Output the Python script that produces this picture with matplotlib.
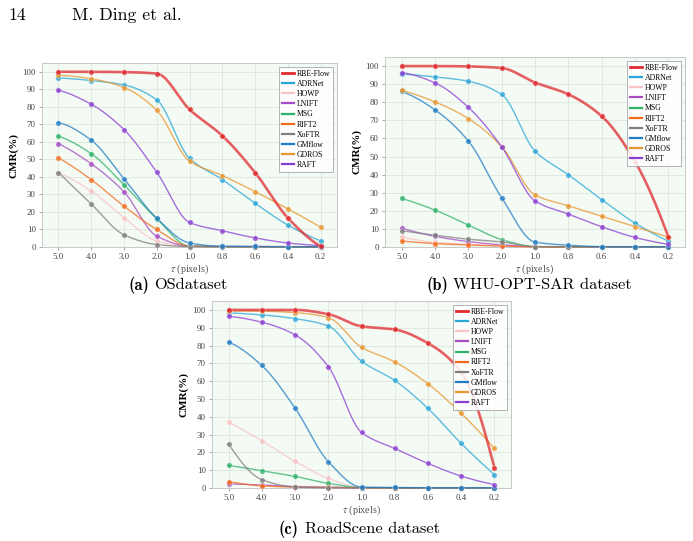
import numpy as np
import matplotlib
matplotlib.use("Agg")
import matplotlib.pyplot as plt
from matplotlib.lines import Line2D

# Data
tau_labels = ["5.0", "4.0", "3.0", "2.0", "1.0", "0.8", "0.6", "0.4", "0.2"]
methods = ["RBE-Flow", "ADRNet", "HOWP", "LNIFT", "MSG", "RIFT2", "XoFTR",
           "GMflow", "GDROS", "RAFT"]
colors = ["#e02b2f", "#2aa7d8", "#f8c4c4", "#a64cc4", "#2fb36a", "#f26b1d",
          "#7f7f7f", "#1f7cc4", "#e8962e", "#8b3fd2"]

os_cmr = {
    "RBE-Flow": [100, 100, 99.8, 99, 78.5, 63.5, 42.5, 16.6, 0.3],
    "ADRNet":   [96.5, 95, 92.5, 84, 50.6, 38.5, 25, 12.5, 3.5],
    "HOWP":     [42.5, 32, 16.8, 3.5, 0.3, 0.2, 0.2, 0.1, 0.1],
    "LNIFT":    [59, 47.5, 31.5, 6.2, 0.5, 0.3, 0.3, 0.2, 0.2],
    "MSG":      [63.2, 53.3, 35.5, 16.2, 0.5, 0.2, 0.2, 0.1, 0.1],
    "RIFT2":    [51, 38.5, 23.3, 10, 0.5, 0.2, 0.1, 0.1, 0.1],
    "XoFTR":    [42.5, 24.6, 7, 1.4, 0.2, 0.1, 0.1, 0.1, 0.1],
    "GMflow":   [71, 61, 39, 16.4, 2.3, 0.4, 0.3, 0.1, 0.1],
    "GDROS":    [98, 96, 91, 78, 49, 40.8, 31.6, 21.8, 11.3],
    "RAFT":     [89.5, 81.5, 67, 42.7, 14, 9.3, 5.2, 2.3, 0.8],
}
whu_cmr = {
    "RBE-Flow": [100, 100, 99.8, 98.9, 90.9, 84.4, 72.3, 47.2, 5.6],
    "ADRNet":   [95.6, 94, 91.6, 84.3, 53, 40, 26.2, 13.2, 3.3],
    "HOWP":     [5.6, 2.5, 1.5, 0.6, 0.1, 0.1, 0.1, 0.1, 0.1],
    "LNIFT":    [10.4, 5.9, 3, 1.2, 0.2, 0.1, 0.1, 0.1, 0.1],
    "MSG":      [26.9, 20.4, 12.2, 4.1, 0.2, 0.1, 0.1, 0.1, 0.1],
    "RIFT2":    [3.3, 1.9, 1.1, 0.5, 0.1, 0.1, 0.1, 0.1, 0.1],
    "XoFTR":    [9, 6.5, 4.3, 2.8, 0.2, 0.1, 0.1, 0.1, 0.1],
    "GMflow":   [86, 75.8, 58.6, 27.2, 2.7, 1.0, 0.2, 0.1, 0.1],
    "GDROS":    [86.6, 80.2, 71, 55.5, 28.8, 22.8, 17, 11.3, 5.5],
    "RAFT":     [96.3, 90.7, 77.2, 55.4, 25.5, 18.2, 11.2, 5.3, 1.5],
}
road_cmr = {
    "RBE-Flow": [100, 100, 100, 97.6, 90.8, 89, 81.3, 65, 11.4],
    "ADRNet":   [98.3, 97.2, 95.1, 91, 71.2, 60.4, 44.7, 25, 7.5],
    "HOWP":     [37, 26.5, 15, 5.4, 0.3, 0.2, 0.1, 0.1, 0.1],
    "LNIFT":    [2.3, 1.7, 0.8, 0.5, 0.1, 0.1, 0.1, 0.1, 0.1],
    "MSG":      [12.7, 9.7, 6.5, 2.6, 0.2, 0.1, 0.1, 0.1, 0.1],
    "RIFT2":    [3.6, 1.2, 0.5, 0.3, 0.1, 0.1, 0.1, 0.1, 0.1],
    "XoFTR":    [24.7, 4.7, 0.5, 0.1, 0.1, 0.1, 0.1, 0.1, 0.1],
    "GMflow":   [82, 68.8, 44.9, 14.8, 0.5, 0.3, 0.1, 0.1, 0.1],
    "GDROS":    [99.4, 99.3, 98.5, 95.7, 79, 70.8, 58.5, 41.9, 22.2],
    "RAFT":     [96.4, 93.1, 86, 68.2, 31.2, 22.2, 13.8, 6.7, 1.9],
}


def pchip(x, y, xs):
    # monotone cubic (Fritsch-Carlson) for smooth drawing between points
    x = np.asarray(x, float)
    y = np.asarray(y, float)
    h = np.diff(x)
    dl = np.diff(y) / h
    n = len(x)
    d = np.zeros(n)
    for k in range(1, n - 1):
        if dl[k - 1] * dl[k] > 0:
            w1 = 2 * h[k] + h[k - 1]
            w2 = h[k] + 2 * h[k - 1]
            d[k] = (w1 + w2) / (w1 / dl[k - 1] + w2 / dl[k])
    for i, (a, b, hh0, hh1) in [(0, (dl[0], dl[1], h[0], h[1])),
                                (n - 1, (dl[-1], dl[-2], h[-1], h[-2]))]:
        e = ((2 * hh0 + hh1) * a - hh0 * b) / (hh0 + hh1)
        if np.sign(e) != np.sign(a):
            e = 0
        elif np.sign(a) != np.sign(b) and abs(e) > abs(3 * a):
            e = 3 * a
        d[i] = e
    idx = np.clip(np.searchsorted(x, xs) - 1, 0, n - 2)
    t = (xs - x[idx]) / h[idx]
    h00 = 2 * t**3 - 3 * t**2 + 1
    h10 = t**3 - 2 * t**2 + t
    h01 = -2 * t**3 + 3 * t**2
    h11 = t**3 - t**2
    return (h00 * y[idx] + h10 * h[idx] * d[idx] + h01 * y[idx + 1]
            + h11 * h[idx] * d[idx + 1])


plt.rcParams["font.family"] = ["Liberation Serif", "DejaVu Serif"]
plt.rcParams["mathtext.fontset"] = "stix"

fig = plt.figure(figsize=(6.93, 5.41), dpi=100)

# page header
fig.text(8 / 693, 1 - 15 / 541, "14", fontfamily="cmr10", fontsize=12.8,
         va="center", ha="left")
fig.text(72 / 693, 1 - 15 / 541, "M. Ding et al.", fontfamily="cmr10",
         fontsize=12.8, va="center", ha="left")

panels = [
    (os_cmr, [42, 63, 337, 247], "(a)", "OSdataset", (128, 154, 285)),
    (whu_cmr, [385, 57, 685, 247], "(b)", "WHU-OPT-SAR dataset", (427, 453, 285)),
    (road_cmr, [212, 301, 511, 488], "(c)", "RoadScene dataset", (278, 305, 529)),
]

xpos = np.arange(len(tau_labels))
xs = np.linspace(0, len(tau_labels) - 1, 400)

for data, (l, t, r, b), tag, name, (tx, nx, cy) in panels:
    ax = fig.add_axes([l / 693, 1 - b / 541, (r - l) / 693, (b - t) / 541])
    ax.set_facecolor("#f4faf4")
    ax.grid(True, color="#dde6dd", linewidth=0.6)
    ax.set_axisbelow(True)
    for sp in ax.spines.values():
        sp.set_color("#c8c8c8")
        sp.set_linewidth(0.7)

    order = list(range(1, len(methods))) + [0]
    for i in order:
        m = methods[i]
        lw = 1.9 if m == "RBE-Flow" else 1.0
        z = 5 if m == "RBE-Flow" else 3
        ax.plot(xs, pchip(xpos, data[m], xs), color=colors[i], lw=lw,
                alpha=0.75, zorder=z, clip_on=False)
        ax.plot(xpos, data[m], "o", color=colors[i], ms=3.9, alpha=0.8,
                mec="white", mew=0.3, zorder=z, clip_on=False)

    ax.set_xlim(-0.5, len(tau_labels) - 0.5)
    ax.set_ylim(0, 105)
    ax.set_xticks(xpos)
    ax.set_xticklabels(tau_labels)
    ax.set_yticks(np.arange(0, 101, 10))
    ax.tick_params(labelsize=6.4, colors="#444444", length=2.5, width=0.6,
                   pad=2, color="#999999")
    ax.set_ylabel("CMR(%)", fontsize=8, fontweight="bold", labelpad=3)
    ax.set_xlabel(r"$\tau$ (pixels)", fontsize=7.3, color="#555555", labelpad=1)

    handles = [Line2D([], [], color=colors[i],
                      lw=2.0 if methods[i] == "RBE-Flow" else 1.6)
               for i in range(len(methods))]
    leg = ax.legend(handles, methods, loc="upper right", fontsize=5.6,
                    handlelength=1.6, labelspacing=0.28, borderpad=0.35,
                    handletextpad=0.35, borderaxespad=0.5, fancybox=False,
                    framealpha=0.85, edgecolor="#999999")
    leg.get_frame().set_linewidth(0.6)
    leg.set_zorder(10)

    # caption
    fig.text(tx / 693, 1 - cy / 541, tag, fontfamily="cmb10",
             fontsize=11.8, ha="left", va="center")
    fig.text(nx / 693, 1 - cy / 541, name, fontfamily="cmr10",
             fontsize=11.8, ha="left", va="center")

fig.savefig("out.png", dpi=100)
